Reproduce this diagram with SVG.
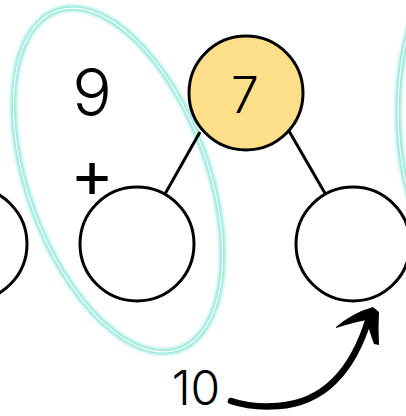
<svg xmlns="http://www.w3.org/2000/svg" width="406" height="416" viewBox="0 0 406 416">
  <defs>
    <filter id="glow" x="-20%" y="-20%" width="140%" height="140%">
      <feGaussianBlur stdDeviation="1.5"/>
    </filter>
    <style>
      .node { fill: #ffffff; stroke: #000000; stroke-width: 3; }
      .root { fill: #fddf8a; stroke: #000000; stroke-width: 3; }
      .edge { stroke: #000000; stroke-width: 3; fill: none; }
      .glow { fill: none; stroke: #8fe8d8; stroke-width: 6; }
      .core { fill: none; stroke: #ffffff; stroke-width: 1.2; }
      .lbl { font-family: "Inter", "Liberation Sans", sans-serif; fill: #000000; text-anchor: middle; font-weight: 300; }
    </style>
  </defs>

  <g id="highlights">
    <g transform="rotate(-20 118 180)">
      <ellipse class="glow" filter="url(#glow)" cx="118" cy="180" rx="90" ry="180"/>
      <ellipse class="core" cx="118" cy="180" rx="90" ry="180"/>
    </g>
    <ellipse class="glow" filter="url(#glow)" cx="490" cy="112" rx="92" ry="175"/>
    <ellipse class="core" cx="490" cy="112" rx="92" ry="175"/>
  </g>

  <g id="connectors">
    <line class="edge" x1="200" y1="132" x2="165" y2="194"/>
    <line class="edge" x1="289" y1="131" x2="326" y2="195"/>
    <path d="M231,401 Q252,408 278,406 C322,403 352,374 369,318" stroke="#000" stroke-width="6.5" fill="none" stroke-linecap="round"/>
    <path d="M336,327 Q352,313 373,307 L379,312 Q378,328 379,345 L374,344 Q369,331 367,320 Q355,322 336,328 Z" fill="#000"/>
  </g>

  <g id="node-left-partial">
    <circle class="node" cx="-30" cy="244" r="57"/>
  </g>
  <g id="node-root">
    <circle class="root" cx="246" cy="93" r="57"/>
    <text class="lbl" x="245" y="113" font-size="50">7</text>
  </g>
  <g id="node-left">
    <circle class="node" cx="137" cy="244" r="57"/>
  </g>
  <g id="node-right">
    <circle class="node" cx="353" cy="244" r="57"/>
  </g>

  <g id="labels">
    <text class="lbl" x="92" y="116" font-size="66">9</text>
    <text x="92" y="197" font-size="66" font-family="Inter, 'Liberation Sans', sans-serif" font-weight="400" text-anchor="middle">+</text>
    <text class="lbl" x="196" y="405" font-size="48">10</text>
  </g>
</svg>
